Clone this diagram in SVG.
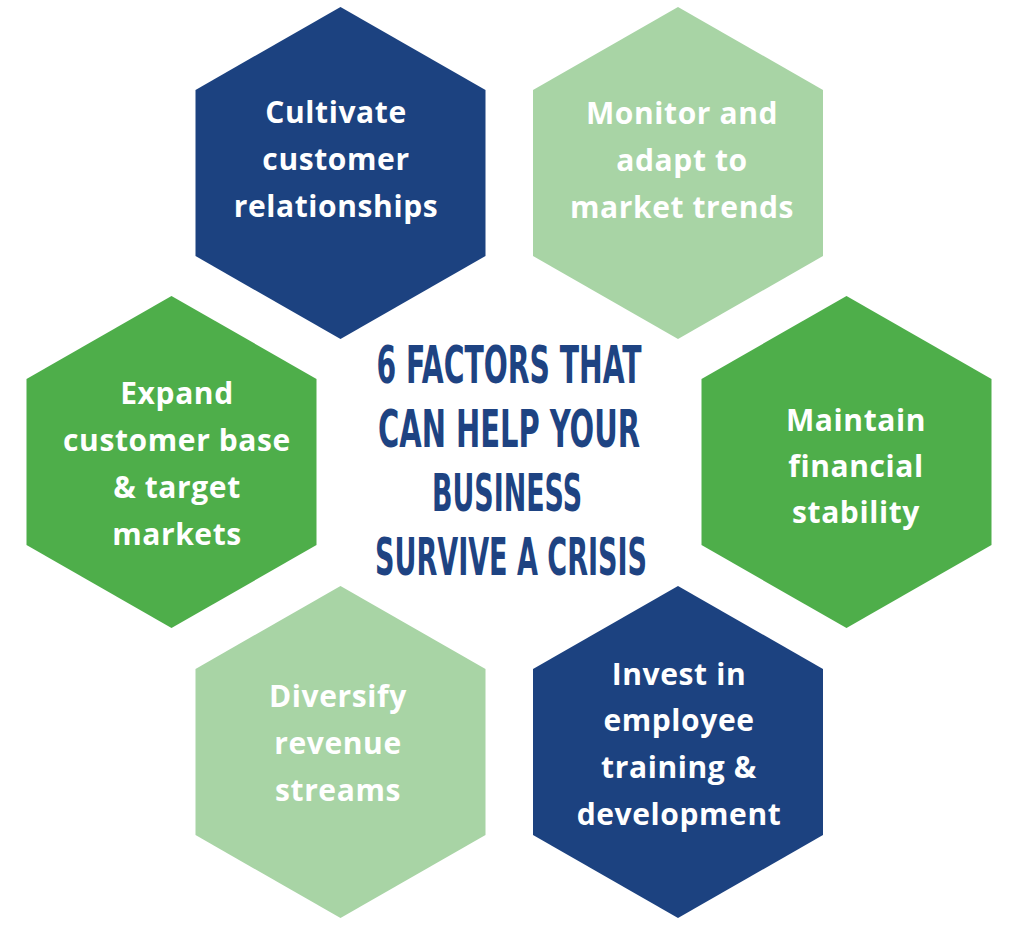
<svg xmlns="http://www.w3.org/2000/svg" width="1024" height="926" viewBox="0 0 1024 926">
<style>
.dark{fill:#1C4280}
.green{fill:#4EAE4A}
.light{fill:#A8D4A5}
.lbl{font-family:"Open Sans",Lato,"Liberation Sans",sans-serif;font-weight:700;font-size:30px;letter-spacing:0.6px;fill:#FFFFFF;text-anchor:middle}
.title{font-family:"Liberation Sans Narrow","DejaVu Sans Condensed","Liberation Sans",sans-serif;font-weight:700;font-size:52px;fill:#1E4382;text-anchor:middle}
</style>
<defs>
<path id="hex" d="M0,-166 L145,-83 L145,83 L0,166 L-145,83 L-145,-83 Z"/>
</defs>
<rect width="1024" height="926" fill="#FFFFFF"/>
<g id="node-cultivate">
<use href="#hex" class="dark" x="340.5" y="173"/>
<text class="lbl" x="336" y="123">Cultivate</text>
<text class="lbl" x="336" y="170">customer</text>
<text class="lbl" x="336" y="217">relationships</text>
</g>
<g id="node-monitor">
<use href="#hex" class="light" x="678" y="173"/>
<text class="lbl" x="682" y="124">Monitor and</text>
<text class="lbl" x="682" y="171">adapt to</text>
<text class="lbl" x="682" y="218">market trends</text>
</g>
<g id="node-expand">
<use href="#hex" class="green" x="171.5" y="462"/>
<text class="lbl" x="177" y="404">Expand</text>
<text class="lbl" x="177" y="451">customer base</text>
<text class="lbl" x="177" y="498">&amp; target</text>
<text class="lbl" x="177" y="545">markets</text>
</g>
<g id="node-maintain">
<use href="#hex" class="green" x="846.5" y="462"/>
<text class="lbl" x="856" y="431">Maintain</text>
<text class="lbl" x="856" y="477">financial</text>
<text class="lbl" x="856" y="523">stability</text>
</g>
<g id="node-diversify">
<use href="#hex" class="light" x="340.5" y="752"/>
<text class="lbl" x="338" y="707">Diversify</text>
<text class="lbl" x="338" y="754">revenue</text>
<text class="lbl" x="338" y="801">streams</text>
</g>
<g id="node-invest">
<use href="#hex" class="dark" x="678" y="752"/>
<text class="lbl" x="679" y="685">Invest in</text>
<text class="lbl" x="679" y="731">employee</text>
<text class="lbl" x="679" y="778">training &amp;</text>
<text class="lbl" x="679" y="825">development</text>
</g>
<g id="title">
<text class="title" x="509" y="383" textLength="265" lengthAdjust="spacingAndGlyphs">6 FACTORS THAT</text>
<text class="title" x="509" y="447" textLength="262" lengthAdjust="spacingAndGlyphs">CAN HELP YOUR</text>
<text class="title" x="507" y="511" textLength="150" lengthAdjust="spacingAndGlyphs">BUSINESS</text>
<text class="title" x="511" y="575" textLength="272" lengthAdjust="spacingAndGlyphs">SURVIVE A CRISIS</text>
</g>
<g id="connectors"/>
</svg>
